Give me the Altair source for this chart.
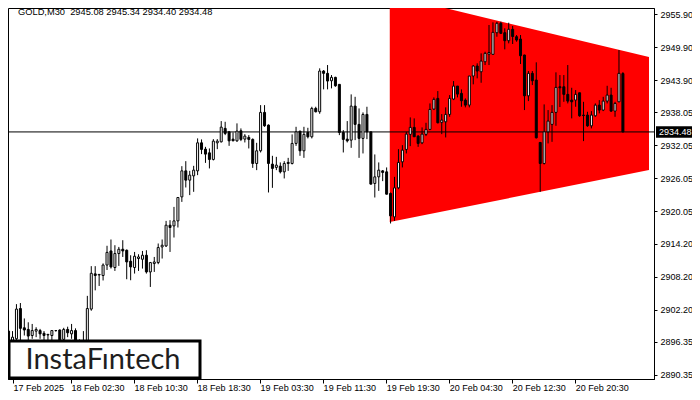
import altair as alt
import pandas as pd

# ---------------- data ----------------
opens = [2898.3, 2896.6, 2896.9, 2902.4, 2898.9, 2898.6, 2897.5, 2898.3, 2898.4, 2897.9,
         2897.6, 2897.5, 2898.4, 2898.5, 2896.8, 2898.6, 2897.8, 2898.4, 2896.2, 2896.3,
         2896.4, 2902.3, 2908.7, 2908.5, 2908.4, 2910.3, 2912.86, 2909.85, 2912.39, 2913.17,
         2912.99, 2910.99, 2909.85, 2911.48, 2911.35, 2912.08, 2909.05, 2910.57, 2910.75, 2913.59,
         2913.77, 2917.54, 2917.41, 2918.32, 2922.68, 2927.41, 2925.72, 2926.5, 2927.41, 2932.5,
         2931.35, 2930.68, 2929.48, 2932.5, 2932.68, 2935.12, 2934.5, 2933.17, 2932.86, 2934.68,
         2933.17, 2933.48, 2933.12, 2928.75, 2931.05, 2938.03, 2935.72, 2928.63, 2928.03, 2928.26,
         2927.23, 2928.94, 2928.75, 2932.39, 2934.63, 2931.05, 2934.39, 2933.6, 2938.75, 2938.14,
         2945.54, 2945.12, 2943.77, 2944.39, 2943.12, 2934.39, 2933.17, 2932.99, 2939.17, 2935.85,
         2933.3, 2937.66, 2934.5, 2925.12, 2926.32, 2927.41, 2927.23, 2923.3, 2919.05, 2924.32,
         2929.05, 2931.3, 2934.03, 2935.3, 2933.72, 2932.5, 2934.03, 2934.94, 2938.63, 2940.57,
         2936.21, 2936.32, 2937.66, 2940.45, 2942.81, 2941.48, 2940.26, 2939.35, 2944.63, 2946.45,
         2945.41, 2947.23, 2948.6, 2948.57, 2952.5, 2954.21, 2952.5, 2951.05, 2953.12, 2951.77,
         2951.35, 2948.45, 2941.04, 2945.12, 2943.9, 2932.57, 2928.75, 2934.5, 2935.85, 2938.03,
         2942.68, 2942.68, 2941.3, 2940.26, 2940.26, 2941.59, 2937.54, 2937.54, 2935.59, 2937.41,
         2939.35, 2938.45, 2940.08, 2941.17, 2938.26, 2939.95, 2945.08]
highs = [2898.6, 2898.3, 2903.2, 2903.4, 2900.6, 2899.9, 2899.6, 2899.0, 2898.7, 2898.3,
         2897.8, 2898.4, 2898.5, 2898.6, 2898.9, 2899.1, 2899.6, 2898.8, 2896.8, 2898.3,
         2904.7, 2910.1, 2910.1, 2908.6, 2910.6, 2913.8, 2914.94, 2913.9, 2913.59, 2914.81,
         2913.12, 2912.08, 2912.68, 2912.26, 2912.86, 2912.99, 2910.86, 2911.77, 2914.21, 2914.94,
         2918.32, 2918.45, 2920.86, 2922.57, 2928.26, 2929.17, 2927.41, 2928.32, 2933.3, 2933.12,
         2931.77, 2931.48, 2933.17, 2933.17, 2936.45, 2936.32, 2934.63, 2934.39, 2936.03, 2935.12,
         2934.08, 2933.9, 2933.3, 2932.5, 2939.35, 2939.35, 2935.85, 2930.14, 2929.95, 2928.94,
         2929.17, 2929.77, 2934.03, 2935.41, 2934.63, 2935.41, 2935.23, 2939.05, 2939.05, 2946.03,
         2945.72, 2946.63, 2944.81, 2944.5, 2943.12, 2934.81, 2936.45, 2941.3, 2940.86, 2938.75,
         2938.03, 2939.05, 2934.5, 2930.39, 2928.94, 2927.54, 2928.03, 2923.48, 2926.32, 2931.35,
         2932.08, 2934.5, 2937.12, 2936.94, 2933.9, 2935.3, 2936.14, 2939.66, 2940.75, 2941.9,
         2937.72, 2938.94, 2941.17, 2943.72, 2942.81, 2942.21, 2940.57, 2944.63, 2946.63, 2946.94,
         2948.75, 2949.05, 2953.9, 2954.39, 2954.5, 2954.5, 2953.3, 2954.32, 2953.72, 2952.08,
         2952.08, 2948.5, 2945.54, 2945.54, 2947.12, 2932.6, 2939.48, 2938.45, 2939.35, 2945.3,
         2944.81, 2944.81, 2946.63, 2942.5, 2942.08, 2941.59, 2939.95, 2938.14, 2938.26, 2939.66,
         2940.26, 2940.86, 2942.86, 2942.5, 2939.95, 2949.35, 2945.34]
lows = [2895.8, 2896.0, 2896.5, 2896.6, 2897.5, 2896.2, 2896.9, 2897.2, 2896.9, 2896.6,
        2896.4, 2896.3, 2898.2, 2895.8, 2896.3, 2897.2, 2896.9, 2895.6, 2895.8, 2895.9,
        2896.0, 2902.0, 2905.7, 2906.5, 2907.5, 2909.4, 2909.66, 2909.23, 2910.14, 2911.77,
        2907.72, 2907.54, 2908.75, 2909.23, 2909.66, 2908.75, 2906.32, 2909.05, 2910.45, 2911.48,
        2913.59, 2912.68, 2915.3, 2917.12, 2921.77, 2924.39, 2923.0, 2923.6, 2926.63, 2930.45,
        2928.86, 2927.85, 2929.3, 2931.35, 2932.57, 2933.9, 2931.95, 2932.81, 2932.68, 2932.81,
        2932.57, 2931.48, 2927.95, 2927.54, 2930.75, 2935.41, 2923.48, 2924.32, 2927.54, 2926.94,
        2926.03, 2927.41, 2928.57, 2931.95, 2930.14, 2929.77, 2933.3, 2933.3, 2938.03, 2937.77,
        2942.21, 2942.21, 2942.39, 2942.68, 2933.9, 2930.75, 2932.57, 2931.59, 2932.99, 2929.77,
        2930.57, 2933.17, 2924.94, 2922.57, 2923.77, 2925.54, 2923.12, 2917.85, 2918.32, 2924.08,
        2928.03, 2930.57, 2931.9, 2933.6, 2931.77, 2932.26, 2933.72, 2934.81, 2938.45, 2936.03,
        2934.08, 2933.48, 2937.23, 2940.26, 2940.75, 2939.05, 2938.94, 2938.94, 2943.12, 2944.21,
        2943.41, 2946.63, 2946.63, 2948.45, 2951.77, 2952.26, 2949.48, 2950.57, 2950.45, 2950.86,
        2946.81, 2938.45, 2940.08, 2942.99, 2933.3, 2923.6, 2928.57, 2932.39, 2932.68, 2935.59,
        2939.0, 2939.95, 2939.66, 2936.94, 2939.05, 2937.23, 2932.81, 2935.41, 2935.12, 2937.23,
        2937.85, 2938.26, 2939.66, 2938.14, 2937.23, 2939.9, 2934.40]
closes = [2896.3, 2897.2, 2902.3, 2898.8, 2898.5, 2897.4, 2898.4, 2898.6, 2897.8, 2897.5,
          2897.7, 2898.4, 2898.4, 2896.4, 2898.6, 2898.0, 2898.4, 2896.0, 2896.4, 2896.5,
          2902.4, 2908.8, 2908.4, 2908.6, 2910.3, 2912.6, 2909.96, 2912.39, 2913.17, 2912.86,
          2910.86, 2909.96, 2911.9, 2911.77, 2912.08, 2909.05, 2910.75, 2910.86, 2913.48, 2913.9,
          2917.54, 2917.12, 2918.32, 2922.57, 2927.41, 2925.72, 2926.63, 2927.54, 2932.5, 2931.3,
          2930.45, 2929.48, 2932.81, 2932.81, 2935.35, 2934.21, 2932.86, 2932.86, 2934.63, 2933.12,
          2933.72, 2933.12, 2928.75, 2931.05, 2938.03, 2935.59, 2928.75, 2927.85, 2928.45, 2927.23,
          2928.75, 2928.75, 2932.39, 2934.5, 2931.05, 2934.03, 2933.6, 2938.75, 2938.14, 2945.54,
          2945.12, 2943.72, 2944.39, 2942.86, 2934.39, 2933.12, 2932.86, 2939.17, 2935.85, 2933.3,
          2937.66, 2934.5, 2925.0, 2926.32, 2927.54, 2927.12, 2923.17, 2919.23, 2924.32, 2928.94,
          2931.17, 2934.08, 2935.3, 2933.6, 2932.39, 2934.08, 2934.94, 2938.57, 2940.39, 2936.14,
          2936.63, 2937.66, 2940.57, 2942.81, 2941.35, 2940.14, 2939.35, 2944.63, 2946.45, 2945.54,
          2947.35, 2948.75, 2948.9, 2952.57, 2954.21, 2952.39, 2951.05, 2953.12, 2951.81, 2951.17,
          2948.32, 2941.04, 2945.12, 2943.77, 2933.41, 2928.75, 2934.5, 2936.45, 2938.03, 2942.57,
          2942.5, 2941.3, 2940.08, 2939.95, 2941.3, 2937.41, 2937.45, 2935.59, 2937.54, 2939.35,
          2938.45, 2940.08, 2941.17, 2938.26, 2939.66, 2945.12, 2934.48]

x_tick_labels = ["17 Feb 2025", "18 Feb 02:30", "18 Feb 10:30", "18 Feb 18:30", "19 Feb 03:30",
                 "19 Feb 11:30", "19 Feb 19:30", "20 Feb 04:30", "20 Feb 12:30", "20 Feb 20:30"]
x_tick_bars = [1.125, 15.875, 31.875, 47.875, 63.875, 79.875, 95.875, 111.875, 127.875, 143.875]
y_tick_values = [2890.35, 2896.35, 2902.20, 2908.20, 2914.20, 2920.05, 2926.05,
                 2932.05, 2938.05, 2943.90, 2949.90, 2955.90]
last_price = [2934.48]
header_text = "GOLD,M30\u00a0 2945.08 2945.34 2934.40 2934.48"
watermark_text = "InstaF\u0131ntech"

triangle_bar = [96.8, 162.625]
triangle_upper = [2959.4, 2948.08]
triangle_lower = [2918.1, 2927.55]

X_DOMAIN = [1.125, 162.625]
Y_DOMAIN = [2889.6, 2956.99]
FONT = "Liberation Sans"

# ---------------- tables ----------------
candles = pd.DataFrame({
    "bar": list(range(len(opens))),
    "open": opens, "high": highs, "low": lows, "close": closes,
})
candles["dir"] = ["up" if c >= o else "down" for o, c in zip(opens, closes)]
tri = pd.DataFrame({"bar": triangle_bar, "upper": triangle_upper, "lower": triangle_lower})
price_df = pd.DataFrame({"price": last_price})
one = pd.DataFrame({"k": [0]})

label_expr = "[" + ",".join("'" + s + "'" for s in x_tick_labels) + "][round(datum.value/16)]"

xscale = alt.Scale(domain=X_DOMAIN, nice=False, zero=False)
yscale = alt.Scale(domain=Y_DOMAIN, nice=False, zero=False)

x_axis = alt.Axis(values=x_tick_bars, labelExpr=label_expr, title=None, grid=False,
                  tickSize=4, labelAlign="left", labelBaseline="top", labelOffset=0,
                  labelPadding=0, labelFlush=False, labelOverlap=False)
y_axis = alt.Axis(orient="right", values=y_tick_values, format=".2f", title=None,
                  grid=False, tickSize=3, labelPadding=3, labelOverlap=False, labelFlush=False)


def X(field):
    return alt.X(field, scale=xscale, axis=x_axis)


def Y(field):
    return alt.Y(field, scale=yscale, axis=y_axis)


triangle = alt.Chart(tri).mark_area(color="#ff0000", opacity=1, clip=True).encode(
    x=X("bar:Q"), y=Y("upper:Q"), y2="lower:Q",
)

price_line = alt.Chart(price_df).mark_rule(color="black", strokeWidth=1).encode(
    y=Y("price:Q"),
)

wicks = alt.Chart(candles).mark_rule(color="black", strokeWidth=1, clip=True).encode(
    x=X("bar:Q"), y=Y("low:Q"), y2="high:Q",
)

bodies = alt.Chart(candles).mark_bar(size=2, stroke="black", strokeWidth=1, clip=True).encode(
    x=X("bar:Q"), y=Y("open:Q"), y2="close:Q",
    fill=alt.Fill("dir:N", scale=alt.Scale(domain=["up", "down"], range=["white", "black"]),
                  legend=None),
)

header = alt.Chart(one).mark_text(align="left", baseline="middle", font=FONT, fontSize=9.3,
                                  color="black", text=header_text).encode(
    x=alt.value(10), y=alt.value(4),
)

wm_box = alt.Chart(one).mark_rect(fill="white", stroke="black", strokeWidth=3).encode(
    x=alt.value(1), x2=alt.value(192), y=alt.value(333), y2=alt.value(370),
)
wm_text = alt.Chart(one).mark_text(align="center", baseline="middle", font="Lato",
                                   fontSize=29, color="#1e1e1e", text=watermark_text).encode(
    x=alt.value(95), y=alt.value(352),
)

price_box = alt.Chart(price_df).transform_calculate(
    hi="datum.price + 1.05", lo="datum.price - 1.05"
).mark_rect(color="black", clip=False).encode(
    x=alt.value(648), x2=alt.value(684),
    y=Y("hi:Q"), y2="lo:Q",
)
price_text = alt.Chart(price_df).mark_text(align="left", baseline="middle", font=FONT,
                                           fontSize=9, color="white").encode(
    x=alt.value(651),
    y=Y("price:Q"),
    text=alt.Text("price:Q", format=".2f"),
)

chart = alt.layer(
    triangle, price_line, wicks, bodies, header, wm_box, wm_text, price_box, price_text
).properties(
    width=646, height=371,
    autosize=alt.AutoSizeParams(type="none"),
    padding={"left": 0, "top": 0, "right": 38, "bottom": 13},
    background="white",
).configure_view(
    stroke="black", strokeWidth=1
).configure_axis(
    labelFont=FONT, labelFontSize=9, labelColor="black",
    domainColor="black", tickColor="black", domainWidth=1, tickWidth=1,
)

chart.save("out.html", embed_options={"renderer": "svg", "actions": False})
